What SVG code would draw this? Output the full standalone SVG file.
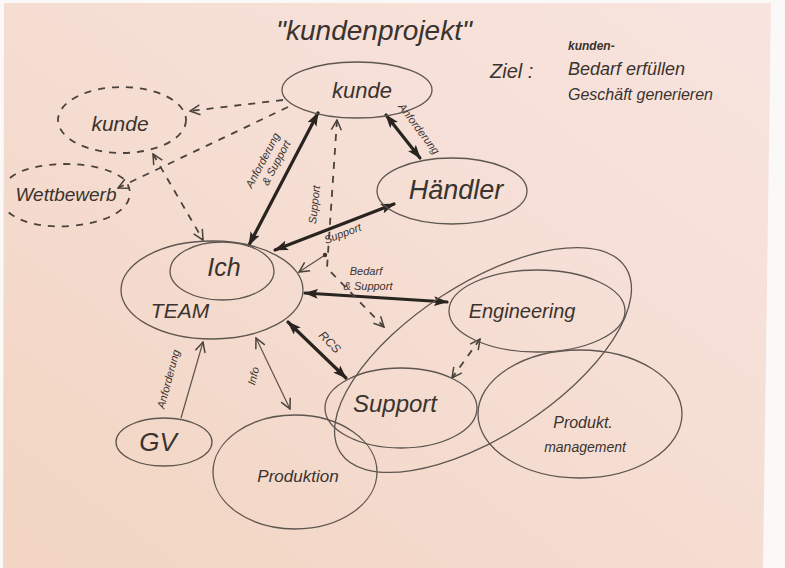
<svg xmlns="http://www.w3.org/2000/svg" width="785" height="568" viewBox="0 0 785 568">
  <defs>
    <linearGradient id="paper" x1="0" y1="1" x2="1" y2="0">
      <stop offset="0" stop-color="#f2d5c2"/>
      <stop offset="0.5" stop-color="#f5ddd2"/>
      <stop offset="1" stop-color="#f8e4df"/>
    </linearGradient>
    <!-- filled head for the heavy pen strokes -->
    <marker id="headBold" viewBox="0 0 14 10" refX="13" refY="5" markerWidth="14" markerHeight="10" markerUnits="userSpaceOnUse" orient="auto-start-reverse">
      <path d="M0,0 L14,5 L0,10 L3,5 Z" fill="#2a2420"/>
    </marker>
    <!-- open chevron for the light strokes -->
    <marker id="headOpen" viewBox="0 0 12 12" refX="11" refY="6" markerWidth="12" markerHeight="12" markerUnits="userSpaceOnUse" orient="auto-start-reverse">
      <path d="M1,1 L11,6 L1,11" fill="none" stroke="#4a423c" stroke-width="1.5"/>
    </marker>
    <style>
      .hand { font-family: "Liberation Sans", "DejaVu Sans", sans-serif; fill: #3a332e; font-style: italic; }
      .node { fill: none; stroke: #5e5650; stroke-width: 1.3; }
      .dash { fill: none; stroke: #4a423c; stroke-width: 1.8; stroke-dasharray: 7 7; }
      .bold { stroke: #2a2420; stroke-width: 3.2; stroke-linecap: round; marker-start: url(#headBold); marker-end: url(#headBold); }
      .thin { fill: none; stroke: #5a524b; stroke-width: 1.2; }
      .small { font-size: 11px; }
    </style>
  </defs>

  <!-- sheet of paper -->
  <rect width="785" height="568" fill="#fbf9f8"/>
  <polygon points="4,3 771,3 763,568 3,568" fill="url(#paper)"/>

  <!-- heading and goal note -->
  <g id="title">
    <text class="hand" x="374" y="40" font-size="28" text-anchor="middle">"kundenprojekt"</text>
  </g>
  <g id="ziel">
    <text class="hand" x="490" y="78" font-size="20">Ziel :</text>
    <text class="hand" x="568" y="50" font-size="12" font-weight="bold">kunden-</text>
    <text class="hand" x="568" y="75" font-size="18">Bedarf erfüllen</text>
    <text class="hand" x="568" y="100" font-size="16">Geschäft generieren</text>
  </g>

  <!-- connectors -->
  <g id="connectors">
    <!-- heavy two-way links -->
    <line class="bold" x1="249" y1="245" x2="318" y2="113"/>
    <line class="bold" x1="386" y1="115" x2="420" y2="158"/>
    <line class="bold" x1="394" y1="204" x2="275" y2="250"/>
    <line class="bold" x1="305" y1="293" x2="447" y2="302"/>
    <line class="bold" x1="288" y1="322" x2="346" y2="378"/>

    <!-- dashed links -->
    <line class="dash" x1="283" y1="100" x2="190" y2="111" marker-end="url(#headOpen)"/>
    <line class="dash" x1="288" y1="107" x2="118" y2="188" marker-end="url(#headOpen)"/>
    <line class="dash" x1="153" y1="154" x2="203" y2="240" marker-start="url(#headOpen)" marker-end="url(#headOpen)"/>
    <polyline class="dash" points="337,120 327,268 384,327" marker-start="url(#headOpen)" marker-end="url(#headOpen)"/>
    <line class="dash" x1="480" y1="339" x2="452" y2="378" marker-start="url(#headOpen)" marker-end="url(#headOpen)"/>

    <!-- light pen links -->
    <line class="thin" x1="325" y1="255" x2="299" y2="272" marker-end="url(#headOpen)"/>
    <circle cx="325" cy="255" r="2.2" fill="#3a332e"/>
    <line class="thin" x1="181" y1="418" x2="203" y2="342" marker-end="url(#headOpen)"/>
    <line class="thin" x1="256" y1="338" x2="290" y2="409" marker-start="url(#headOpen)" marker-end="url(#headOpen)"/>

    <!-- link labels -->
    <text class="hand small" transform="translate(266,162) rotate(-62)" text-anchor="middle">Anforderung<tspan x="4" dy="13">&amp; Support</tspan></text>
    <text class="hand small" transform="translate(416,131) rotate(53)" text-anchor="middle">Anforderung</text>
    <text class="hand small" transform="translate(344,237) rotate(-21)" text-anchor="middle">Support</text>
    <text class="hand small" transform="translate(318,205) rotate(-84)" text-anchor="middle">Support</text>
    <text class="hand small" x="366" y="275" text-anchor="middle">Bedarf</text>
    <text class="hand small" x="368" y="290" text-anchor="middle">&amp; Support</text>
    <text class="hand" font-size="12" transform="translate(327,345) rotate(45)" text-anchor="middle">RCS</text>
    <text class="hand small" transform="translate(172,380) rotate(-75)" text-anchor="middle">Anforderung</text>
    <text class="hand small" transform="translate(257,377) rotate(-75)" text-anchor="middle">Info</text>
  </g>

  <!-- nodes -->
  <g id="kunde">
    <ellipse class="node" cx="357" cy="90" rx="75" ry="28"/>
    <text class="hand" x="362" y="98" font-size="22" text-anchor="middle">kunde</text>
  </g>
  <g id="kunde-extern">
    <ellipse class="dash" cx="122" cy="120" rx="64" ry="33"/>
    <text class="hand" x="120" y="131" font-size="21" text-anchor="middle">kunde</text>
  </g>
  <g id="wettbewerb">
    <path class="dash" d="M10,178 C30,160 100,158 125,180 C140,200 120,222 70,226 C40,228 20,222 8,212"/>
    <text class="hand" x="66" y="201" font-size="19" text-anchor="middle">Wettbewerb</text>
  </g>
  <g id="haendler">
    <ellipse class="node" cx="452" cy="191" rx="75" ry="33"/>
    <text class="hand" x="456" y="199" font-size="27" text-anchor="middle">Händler</text>
  </g>
  <g id="team">
    <ellipse class="node" cx="212" cy="290" rx="91" ry="49"/>
    <text class="hand" x="180" y="318" font-size="21" text-anchor="middle">TEAM</text>
  </g>
  <g id="ich">
    <ellipse class="node" cx="222" cy="271" rx="52" ry="29"/>
    <text class="hand" x="224" y="276" font-size="25" text-anchor="middle">Ich</text>
  </g>
  <g id="gruppe">
    <ellipse class="node" cx="483" cy="360" rx="170" ry="76" transform="rotate(-33 483 360)" stroke-width="1" stroke="#7a7069"/>
  </g>
  <g id="engineering">
    <ellipse class="node" cx="537" cy="311" rx="88" ry="41"/>
    <text class="hand" x="522" y="318" font-size="20" text-anchor="middle">Engineering</text>
  </g>
  <g id="support">
    <ellipse class="node" cx="401" cy="408" rx="76" ry="40"/>
    <text class="hand" x="395" y="412" font-size="24" text-anchor="middle">Support</text>
  </g>
  <g id="produktmanagement">
    <ellipse class="node" cx="580" cy="414" rx="102" ry="64" stroke-width="1"/>
    <text class="hand" x="583" y="428" font-size="16" text-anchor="middle">Produkt.</text>
    <text class="hand" x="585" y="452" font-size="14" text-anchor="middle">management</text>
  </g>
  <g id="gv">
    <ellipse class="node" cx="164" cy="442" rx="48" ry="24"/>
    <text class="hand" x="158" y="451" font-size="26" text-anchor="middle">GV</text>
  </g>
  <g id="produktion">
    <ellipse class="node" cx="295" cy="472" rx="82" ry="57"/>
    <text class="hand" x="298" y="482" font-size="17" text-anchor="middle">Produktion</text>
  </g>
</svg>
